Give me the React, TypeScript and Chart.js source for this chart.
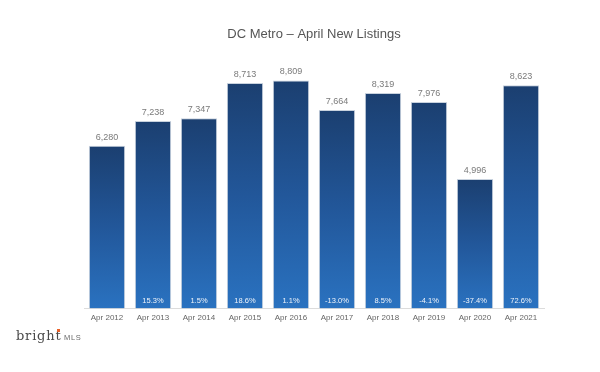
import React, { useEffect, useRef } from "react";
import { Chart, registerables } from "chart.js";

Chart.register(...registerables);

const TITLE = "DC Metro – April New Listings";
const categories = [
  "Apr 2012", "Apr 2013", "Apr 2014", "Apr 2015", "Apr 2016",
  "Apr 2017", "Apr 2018", "Apr 2019", "Apr 2020", "Apr 2021",
];
const newListings = [6280, 7238, 7347, 8713, 8809, 7664, 8319, 7976, 4996, 8623];
const yoyChange: (number | null)[] = [null, 15.3, 1.5, 18.6, 1.1, -13.0, 8.5, -4.1, -37.4, 72.6];
const yMax = 10000;

const FONT = "'Liberation Sans', Arial, sans-serif";

const labelsPlugin = {
  id: "barLabels",
  afterDatasetsDraw(chart: any) {
    const ctx = chart.ctx;
    const meta = chart.getDatasetMeta(0);
    ctx.save();
    ctx.textAlign = "center";
    ctx.textBaseline = "middle";
    meta.data.forEach((bar: any, i: number) => {
      ctx.font = `9px ${FONT}`;
      ctx.fillStyle = "#7a7a7a";
      ctx.fillText(newListings[i].toLocaleString("en-US"), bar.x, bar.y - 8.5);
      const p = yoyChange[i];
      if (p !== null) {
        ctx.font = `7.5px ${FONT}`;
        ctx.fillStyle = "#eef3fa";
        ctx.fillText(`${p.toFixed(1)}%`, bar.x, bar.base - 7);
      }
    });
    ctx.restore();
  },
  afterDraw(chart: any) {
    const ctx = chart.ctx;
    ctx.save();
    ctx.textBaseline = "alphabetic";
    ctx.textAlign = "left";
    ctx.fillStyle = "#4a4a4a";
    ctx.font = `13px 'DejaVu Serif', serif`;
    (ctx as any).letterSpacing = "0.8px";
    ctx.fillText("bright", 16, 340);
    ctx.fillStyle = "#6a6a6a";
    ctx.font = `7.5px ${FONT}`;
    (ctx as any).letterSpacing = "0.7px";
    ctx.fillText("MLS", 64, 340);
    ctx.fillStyle = "#e8622a";
    ctx.fillRect(57, 329, 3, 3);
    ctx.restore();
  },
};

export default function App() {
  const ref = useRef<HTMLCanvasElement>(null);
  useEffect(() => {
    const canvas = ref.current;
    if (!canvas) return;
    const chart = new Chart(canvas, {
      type: "bar",
      data: {
        labels: categories,
        datasets: [
          {
            data: newListings,
            backgroundColor: (c: any) => {
              const ch = c.chart;
              const ys = ch.scales?.y;
              if (!ys || c.dataIndex === undefined) return "#235a9a";
              const top = ys.getPixelForValue(newListings[c.dataIndex]);
              const bottom = ys.getPixelForValue(0);
              if (!isFinite(top) || !isFinite(bottom) || top === bottom) return "#235a9a";
              const g = ch.ctx.createLinearGradient(0, top, 0, bottom);
              g.addColorStop(0, "#1b3f70");
              g.addColorStop(0.5, "#22579a");
              g.addColorStop(1, "#2a72c0");
              return g;
            },
            borderColor: "#c8d2de",
            borderWidth: 1,
            barPercentage: 0.79,
            categoryPercentage: 1,
          },
        ],
      },
      options: {
        responsive: false,
        animation: false,
        devicePixelRatio: 1,
        layout: { padding: { left: 84, right: 56, top: 0, bottom: 44 } },
        plugins: {
          legend: { display: false },
          tooltip: { enabled: false },
          title: {
            display: true,
            text: TITLE,
            fullSize: false,
            color: "#555555",
            font: { family: FONT, size: 13, weight: "normal" },
            padding: { top: 27, bottom: 7 },
          },
        },
        scales: {
          x: {
            grid: { display: false, drawTicks: false },
            border: { display: true, color: "#dcdcdc", width: 1 },
            ticks: {
              color: "#666666",
              font: { family: FONT, size: 8 },
              padding: 5,
              maxRotation: 0,
            },
          },
          y: {
            display: false,
            min: 0,
            max: yMax,
          },
        },
      },
      plugins: [labelsPlugin],
    });
    return () => chart.destroy();
  }, []);
  return (
    <div style={{ position: "absolute", left: 0, top: 0, width: 600, height: 372, background: "#ffffff" }}>
      <canvas ref={ref} width={600} height={372} />
    </div>
  );
}
